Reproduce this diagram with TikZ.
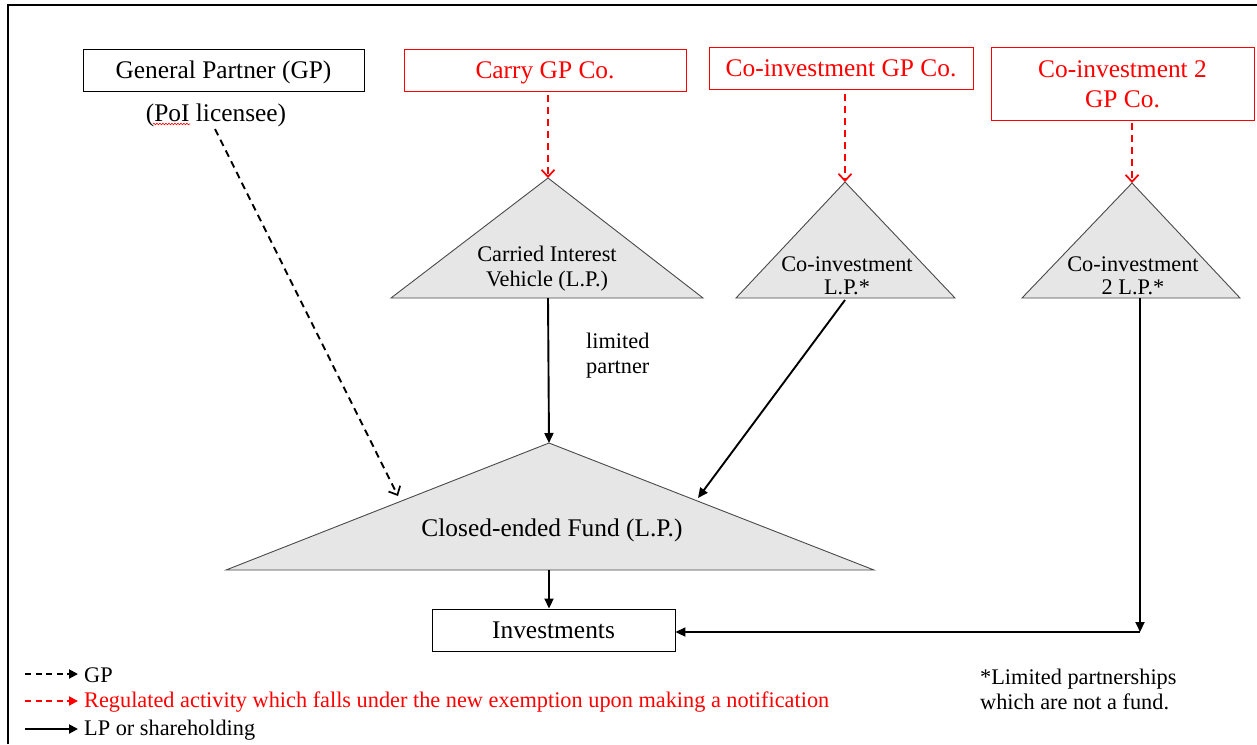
\documentclass[tikz,border=0pt]{standalone}
\usepackage{fontspec}
\setmainfont{Liberation Serif}
\usetikzlibrary{arrows.meta,decorations.pathmorphing}
\definecolor{trifill}{HTML}{E6E6E6}
\definecolor{triline}{HTML}{4A4A4A}
\definecolor{regred}{HTML}{FF0000}
\begin{document}
\begin{tikzpicture}[x=1pt,y=-1pt,
  bigtxt/.style={font=\fontsize{25.4}{29}\selectfont},
  smalltxt/.style={font=\fontsize{22.3}{26}\selectfont},
  onebox/.style={text height=21pt, text depth=5pt},
  blackbox/.style={draw=black, line width=0.9pt, inner sep=0pt, bigtxt, align=center},
  redbox/.style={draw=regred, line width=0.9pt, inner sep=0pt, bigtxt, text=regred, align=center},
  tribody/.style={fill=trifill, draw=triline, line width=0.9pt, line join=miter},
  plain/.style={inner sep=0pt, align=center},
  regarrow/.style={draw=regred, line width=1.9pt, dash pattern=on 7pt off 5pt, -{Straight Barb[length=7pt,width=13pt,line width=1.7pt]}},
  gparrow/.style={draw=black, line width=1.9pt, dash pattern=on 7pt off 5pt, -{Straight Barb[length=7pt,width=13pt,line width=1.7pt]}},
  lparrow/.style={draw=black, line width=1.9pt, -{Triangle[length=10pt,width=9pt]}},
  legdash/.style={line width=1.9pt, dash pattern=on 6pt off 4.5pt, -{Triangle[length=9pt,width=9pt]}},
  legsolid/.style={line width=1.9pt, -{Triangle[length=9pt,width=9pt]}}
]
\useasboundingbox (0,0) rectangle (1257,744);
\fill[white] (0,0) rectangle (1257,744);
% frame
\draw[line width=2.5pt] (8,744) -- (8,5) -- (1257,5);

% top boxes
\node[blackbox, onebox, minimum width=281pt, minimum height=42pt] (gp) at (223.5,70) {General Partner (GP)};
\node[plain, bigtxt] (poi) at (216,115) {(PoI licensee)};
\draw[regred, line width=0.6pt, decorate, decoration={snake, amplitude=0.8pt, segment length=3pt}] (153,124) -- (190,124);
\node[redbox, onebox, minimum width=282pt, minimum height=42pt] (carry) at (545,70) {Carry GP Co.};
\node[redbox, onebox, minimum width=264pt, minimum height=42pt] (cogp) at (841,68) {Co-investment GP Co.};
\node[redbox, minimum width=263pt, minimum height=73pt] (co2gp) at (1122.5,84) {Co-investment 2\\[1pt]GP Co.};

% triangles
\coordinate (civtop) at (548,178);
\coordinate (civbl) at (391,298);
\coordinate (civbr) at (703,298);
\path[tribody] (civtop) -- (civbr) -- (civbl) -- cycle;
\node[plain, smalltxt] (civ) at (547,268.5) {Carried Interest\\[-1pt]Vehicle (L.P.)};

\coordinate (coltop) at (845,182);
\coordinate (colbl) at (736,298);
\coordinate (colbr) at (955,298);
\path[tribody] (coltop) -- (colbr) -- (colbl) -- cycle;
\node[plain, smalltxt] (col) at (847,275.5) {Co-investment\\[-3pt]L.P.*};

\coordinate (co2top) at (1132,183);
\coordinate (co2bl) at (1022,298);
\coordinate (co2br) at (1240,298);
\path[tribody] (co2top) -- (co2br) -- (co2bl) -- cycle;
\node[plain, smalltxt] (co2) at (1133,275.5) {Co-investment\\[-3pt]2 L.P.*};

\coordinate (fundtop) at (549,443);
\coordinate (fundbl) at (226,570);
\coordinate (fundbr) at (874,570);
\path[tribody] (fundtop) -- (fundbr) -- (fundbl) -- cycle;
\node[plain, bigtxt] (fund) at (552,530) {Closed-ended Fund (L.P.)};

% investments
\node[blackbox, onebox, minimum width=243pt, minimum height=42pt] (inv) at (553.5,630) {Investments};

% labels
\node[plain, smalltxt, align=left, anchor=west] (lp) at (586,356) {limited\\[-1pt]partner};

% connectors
\coordinate (gpstart) at (215,129);
\coordinate (gpend) at (398,496);
\draw[gparrow] (gpstart) -- (gpend);

\draw[regarrow] (carry.south -| civtop) ++(0,4) -- (civtop);
\draw[regarrow] ([yshift=-5pt]cogp.south -| coltop) -- (coltop);
\draw[regarrow] ([yshift=-2pt]co2gp.south -| co2top) -- (co2top);

\coordinate (civout) at (548,298);
\draw[lparrow] (civout) -- (fundtop);
\coordinate (colout) at (845,300);
\coordinate (colin) at (698,498);
\draw[lparrow] (colout) -- (colin);
\coordinate (fundout) at (549,570);
\draw[lparrow] (fundout) -- (inv.north -| fundout);
\coordinate (co2out) at (1140,298);
\coordinate (corner) at (1140,632);
\draw[lparrow] (co2out) -- (corner);
\draw[lparrow] (corner) -- (corner -| inv.east);

% legend
\coordinate (l1a) at (25,674); \coordinate (l1b) at (78,674);
\coordinate (l2a) at (25,701); \coordinate (l2b) at (78,701);
\coordinate (l3a) at (25,729); \coordinate (l3b) at (78,729);
\draw[legdash, black] (l1a) -- (l1b);
\draw[legdash, regred] (l2a) -- (l2b);
\draw[legsolid, black] (l3a) -- (l3b);
\node[plain, smalltxt, anchor=west] (leg1) at (84,675) {GP};
\node[plain, smalltxt, anchor=west, text=regred] (leg2) at (84,702) {Regulated activity which falls under the new exemption upon making a notification};
\node[plain, smalltxt, anchor=west] (leg3) at (84,730) {LP or shareholding};

% footnote
\node[plain, smalltxt, align=left, anchor=west] (foot) at (980,689) {*Limited partnerships\\[-1pt]which are not a fund.};
\end{tikzpicture}
\end{document}
